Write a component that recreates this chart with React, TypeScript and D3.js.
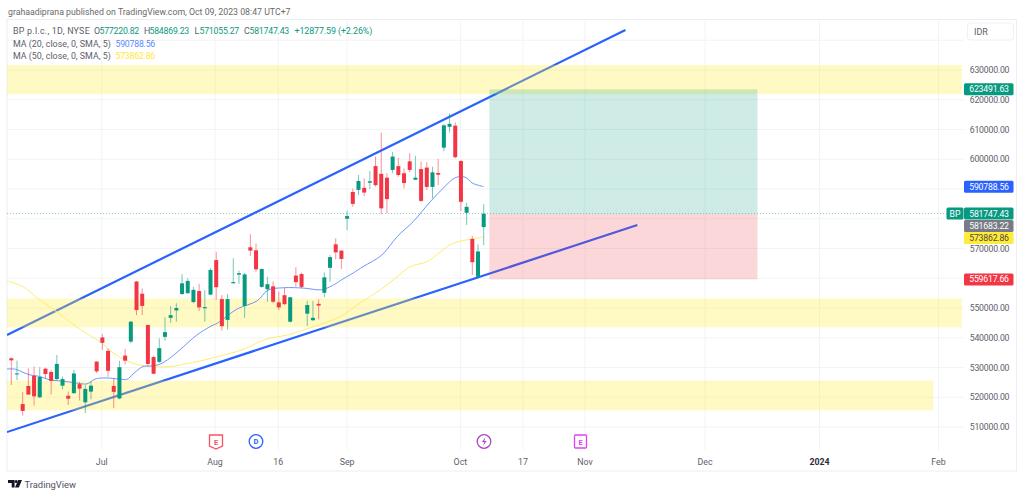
import React from "react";
import * as d3 from "d3";

const opens = [533.1,527.8,517.7,523.8,527.2,520.0,529.6,528.5,526.1,523.9,520.5,521.4,524.4,518.3,521.9,532.0,540.1,535.6,523.8,519.6,534.0,538.7,558.9,554.8,544.3,533.5,531.9,540.3,546.7,549.2,554.7,555.0,552.0,555.7,549.9,554.5,566.1,553.0,546.0,558.3,561.2,550.7,570.4,569.4,557.1,556.3,557.3,551.9,554.3,545.4,560.9,561.4,548.1,545.9,551.4,555.1,563.5,571.4,569.3,580.0,589.0,589.7,590.4,592.1,597.7,595.1,593.8,596.4,597.7,595.3,599.3,593.1,596.7,597.2,590.7,595.4,603.9,610.9,611.3,599.4,582.0,573.2,560.5,577.2];
const highs = [533.4,532.3,521.7,529.7,530.3,530.1,529.9,529.2,534.2,526.9,521.9,529.2,525.2,524.1,525.2,532.0,541.3,536.5,526.4,532.3,536.2,545.6,559.1,556.6,544.3,533.9,539.8,546.9,550.7,551.6,561.3,560.0,557.1,558.1,556.0,563.4,568.9,554.4,554.7,566.7,562.5,561.8,574.8,571.7,563.3,560.5,558.9,555.5,556.8,553.8,563.7,561.9,552.4,552.4,552.9,562.0,567.8,573.4,569.3,582.7,590.2,594.7,593.6,596.0,600.9,608.9,595.3,602.5,600.5,596.9,602.0,601.1,599.2,599.0,597.5,600.1,611.7,615.4,612.4,599.7,585.4,574.2,571.4,584.9];
const lows = [524.1,525.8,513.8,520.8,517.2,519.7,526.4,521.0,525.8,522.7,517.4,521.1,518.9,514.7,519.3,528.1,535.9,526.9,516.3,519.3,531.1,538.2,547.6,547.6,530.5,527.8,531.5,539.0,545.0,545.4,554.4,554.7,551.6,549.0,545.4,554.3,552.7,542.4,542.8,558.3,558.1,546.7,567.5,562.2,556.8,552.1,551.6,549.3,551.0,545.1,557.2,556.6,544.0,545.6,546.2,553.6,558.8,566.4,563.1,576.2,584.0,588.0,587.6,590.0,590.8,581.5,581.8,595.3,594.1,590.2,595.6,593.1,585.7,589.7,586.9,591.3,602.7,609.0,600.3,582.6,577.9,561.1,560.1,571.1];
const closes = [532.4,528.0,515.4,520.9,520.3,526.8,527.8,525.5,531.2,526.1,519.5,528.0,522.9,522.8,523.9,528.7,538.3,528.9,521.8,530.1,532.3,545.4,549.3,550.7,531.2,527.9,536.5,541.9,547.6,550.0,558.3,559.1,556.1,550.2,550.3,562.8,557.0,543.9,553.0,558.7,561.7,561.3,569.3,563.0,563.1,558.0,552.1,550.2,551.3,553.6,558.7,557.1,551.0,546.7,550.8,560.3,567.1,568.7,566.5,580.9,585.0,592.7,588.8,592.6,591.3,583.5,586.6,600.9,594.7,592.0,596.4,593.8,586.0,590.7,595.6,594.8,611.4,611.9,600.7,585.7,584.0,565.4,569.0,581.7];

const ma20Bars = [-0.8,0.8,1.9,3.3,5,6.8,8.6,10.3,12.1,13.3,14.7,16.5,19.1,20.3,21.4,23.1,24.4,26.1,27.9,29.6,32.6,34.9,36.3,39.7,43.2,45.1,47.8,51.3,54.3,55.5,57.2,57.8,60.1,61.8,65.1,67.8,70.6,73.6,75.9,78,79.7,81.1,83];
const ma20Values = [529.5,529.4,528.5,527.5,527,525.8,525.5,525.1,524.6,524.5,526.1,526.5,526.1,526,527.8,530.3,530.5,531.1,533.2,535.9,540.9,543.7,545,549.7,552.4,556,556.8,556.7,556.1,556.7,558.4,559.2,561.8,563.9,567.8,574,579,585.7,590.3,593.8,594,591.9,590.8];
const ma50Bars = [-0.8,2.1,5,8,11.5,15.6,17.9,20.3,23.1,27.9,30.5,33.2,36.7,40.5,44.9,48.4,53.1,57.8,61.3,64.8,67.8,70.1,73.1,75.4,77.6,80.6,83];
const ma50Values = [559.1,557.1,552.7,548.7,543.6,538.6,534.9,532.3,530.6,530.3,531.2,532.2,533.9,535.9,539.6,540.9,543.7,547.1,551.7,556,560.5,563.9,565.6,568.9,571.7,573.1,573.9];

const priceGrid = [640,630,620,610,600,590,580,570,560,550,540,530,520,510];
const priceLabels = [630,620,610,600,570,550,540,530,520,510];
const timeLabels = ["Jul","Aug","16","Sep","Oct","17","Nov","Dec","2024","Feb"];
const timeBars = [15.9,35.8,46.9,59,78.9,89.9,100.8,121.9,142,162.9];

const upperLineBars = [-0.76,107.9];
const upperLinePrices = [540.93,643.45];
const lowerLineBars = [-0.76,110];
const lowerLinePrices = [508.3,577.9];

const zoneTops = [631.7,553.2,525.6];
const zoneBottoms = [621.9,543.5,515.6];
const zoneEnds = [167,167,162];

const targetPrice = 623.49163;
const entryPrice = 581.68322;
const stopPrice = 559.61766;
const lastPrice = 581.74743;
const ma20Last = 590.78856;
const ma50Last = 573.86286;
const positionBars = [84,131.1];

const x = d3.scaleLinear().domain([0, 83]).range([11.3, 483.7]);
const y = d3.scaleLinear().domain([510, 630]).range([427, 70]);

const GREEN = "#089981";
const RED = "#f23645";
const BLUE = "#2962ff";
const GRID = "#f2f3f6";
const TEXT = "#5d606b";
const FONT = "Roboto, 'Open Sans', sans-serif";
const PANE_LEFT = 7;
const PANE_RIGHT = 963;
const NUM = { fontSize: 8.7, letterSpacing: -0.2, fontFamily: FONT };

function maPath(bars: number[], values: number[]) {
  return d3.line<number>().x((_, i) => x(bars[i])).y((v) => y(v)).curve(d3.curveCatmullRom.alpha(0.5))(values) ?? "";
}

function PriceTag({ cy, label, fill, color }: { cy: number; label: string; fill: string; color: string }) {
  return (
    <g>
      <rect x={964} y={cy - 6} width={49.5} height={12} rx={1.5} fill={fill} />
      <text x={989} y={cy + 3.1} textAnchor="middle" fill={color} {...NUM}>{label}</text>
    </g>
  );
}

export default function App() {
  const bodyW = 4;
  const lastY = y(lastPrice);
  return (
    <svg width={1024} height={497} viewBox="0 0 1024 497" style={{ position: "absolute", left: 0, top: 0, background: "#fff" }}>
      <defs>
        <clipPath id="pane"><rect x={PANE_LEFT} y={19} width={PANE_RIGHT - PANE_LEFT} height={431} /></clipPath>
      </defs>

      <text x={8} y={14.5} fontSize={8.75} fill="#6a6a6a" fontFamily={FONT}>grahaadiprana published on TradingView.com, Oct 09, 2023 08:47 UTC+7</text>
      <rect x={7} y={19.5} width={1009.5} height={451.5} fill="none" stroke="#eceef2" />

      <g clipPath="url(#pane)">
        {priceGrid.map((p) => <line key={p} x1={PANE_LEFT} x2={PANE_RIGHT} y1={y(p)} y2={y(p)} stroke={GRID} />)}
        {timeBars.map((b, i) => <line key={i} x1={x(b)} x2={x(b)} y1={19} y2={450} stroke={GRID} />)}

        <line x1={x(upperLineBars[0])} x2={x(upperLineBars[1])} y1={y(upperLinePrices[0])} y2={y(upperLinePrices[1])} stroke={BLUE} strokeWidth={2.2} />
        <line x1={x(lowerLineBars[0])} x2={x(lowerLineBars[1])} y1={y(lowerLinePrices[0])} y2={y(lowerLinePrices[1])} stroke={BLUE} strokeWidth={2.2} />

        {zoneTops.map((t, i) => (
          <rect key={i} x={PANE_LEFT} y={y(t)} width={x(zoneEnds[i]) - PANE_LEFT} height={y(zoneBottoms[i]) - y(t)} fill="#ffeb3b" fillOpacity={0.3} />
        ))}
        <rect x={x(positionBars[0])} y={y(targetPrice)} width={x(positionBars[1]) - x(positionBars[0])} height={y(entryPrice) - y(targetPrice)} fill={GREEN} fillOpacity={0.2} />
        <rect x={x(positionBars[0])} y={y(entryPrice)} width={x(positionBars[1]) - x(positionBars[0])} height={y(stopPrice) - y(entryPrice)} fill={RED} fillOpacity={0.2} />

        <line x1={PANE_LEFT} x2={PANE_RIGHT} y1={lastY} y2={lastY} stroke={GREEN} strokeOpacity={0.45} strokeDasharray="1 2" />

        <path d={maPath(ma50Bars, ma50Values)} fill="none" stroke="#ffec6e" strokeWidth={1} />
        <path d={maPath(ma20Bars, ma20Values)} fill="none" stroke="#6f95ff" strokeWidth={1} />

        {opens.map((o, i) => {
          const c = closes[i];
          const color = c >= o ? GREEN : RED;
          const top = y(Math.max(o, c));
          const h = Math.max(1, y(Math.min(o, c)) - top);
          return (
            <g key={i}>
              <line x1={x(i)} x2={x(i)} y1={y(highs[i])} y2={y(lows[i])} stroke={color} strokeOpacity={0.55} />
              <rect x={x(i) - bodyW / 2} y={top} width={bodyW} height={h} fill={color} />
            </g>
          );
        })}
      </g>

      <g fontFamily={FONT} fontSize={8.9}>
        <text x={13} y={34} fill={TEXT} letterSpacing={0.25}>BP p.l.c., 1D, NYSE</text>
        <text x={94} y={34} fill={TEXT}>O</text><text x={99.5} y={34} fill={GREEN} {...NUM}>577220.82</text>
        <text x={144} y={34} fill={TEXT}>H</text><text x={149.5} y={34} fill={GREEN} {...NUM}>584869.23</text>
        <text x={194.5} y={34} fill={TEXT}>L</text><text x={199.5} y={34} fill={GREEN} {...NUM}>571055.27</text>
        <text x={244} y={34} fill={TEXT}>C</text><text x={249.5} y={34} fill={GREEN} {...NUM}>581747.43</text>
        <text x={294.5} y={34} fill={GREEN} letterSpacing={-0.1}>+12877.59 (+2.26%)</text>
        <text x={13} y={46.5} fill={TEXT}>MA (20, close, 0, SMA, 5)</text>
        <text x={115.5} y={46.5} fill="#5b86ff" {...NUM}>590788.56</text>
        <text x={13} y={58.5} fill={TEXT}>MA (50, close, 0, SMA, 5)</text>
        <text x={115.5} y={58.5} fill="#ffe83b" {...NUM}>573862.86</text>
      </g>

      <rect x={967.5} y={23} width={46} height={17} rx={3} fill="#fff" stroke="#eef0f3" />
      <text x={974} y={35} fontSize={9} fill={TEXT} fontFamily={FONT}>IDR</text>

      {priceLabels.map((p) => (
        <text key={p} x={989.5} y={y(p) + 3.1} textAnchor="middle" fill={TEXT} {...NUM}>{`${p}000.00`}</text>
      ))}

      <PriceTag cy={y(targetPrice)} label="623491.63" fill={GREEN} color="#fff" />
      <PriceTag cy={y(ma20Last)} label="590788.56" fill={BLUE} color="#fff" />
      <PriceTag cy={y(stopPrice)} label="559617.66" fill={RED} color="#fff" />
      <PriceTag cy={y(ma50Last) + 1} label="573862.86" fill="#ffeb3b" color="#4a4a3a" />
      <PriceTag cy={lastY + 12.4} label="581683.22" fill="#787b86" color="#fff" />
      <PriceTag cy={lastY} label="581747.43" fill={GREEN} color="#fff" />
      <rect x={946.5} y={lastY - 6} width={17} height={12} rx={1.5} fill={GREEN} />
      <text x={955} y={lastY + 3.1} fontSize={8.7} textAnchor="middle" fill="#fff" fontFamily={FONT}>BP</text>

      {timeLabels.map((t, i) => (
        <text key={t} x={x(timeBars[i])} y={464.5} fontSize={8.8} textAnchor="middle" fill={t === "2024" ? "#2a2e39" : TEXT} fontWeight={t === "2024" ? 700 : 400} fontFamily={FONT}>{t}</text>
      ))}

      {/* event markers */}
      <g fontFamily={FONT} fontSize={7.5} fontWeight={700} textAnchor="middle">
        <path d="M209.5 435 h13 v11 l-6.5 3 l-6.5 -3 z" fill="#fff" stroke="#f7525f" strokeWidth={1.3} />
        <text x={216} y={444.5} fill="#f7525f">E</text>
        <circle cx={256} cy={441.5} r={6.8} fill="#fff" stroke="#2962ff" strokeWidth={1.3} />
        <text x={256} y={444.2} fill="#2962ff">D</text>
        <circle cx={484} cy={441.5} r={6.8} fill="#fff" stroke="#ab47bc" strokeWidth={1.3} />
        <path d="M485.5 437 l-3.6 5 h2.4 l-1.3 4 l3.6 -5 h-2.4 z" fill="#ab47bc" />
        <rect x={574.5} y={435} width={12} height={13} rx={1} fill="#fff" stroke="#e040fb" strokeWidth={1.3} />
        <text x={580.5} y={444.5} fill="#e040fb">E</text>
      </g>

      {/* TradingView logo */}
      <g fill="#131722">
        <path d="M8 480 h6.6 v7.5 h-2.9 v-4.4 h-3.7 z" />
        <circle cx={16.2} cy={481.6} r={1.5} />
        <path d="M18.2 480 h3.8 l-3.2 7.5 h-3.8 z" />
      </g>
      <text x={24.5} y={488} fontSize={9.4} fill="#50535e" fontFamily={FONT}>TradingView</text>
    </svg>
  );
}
